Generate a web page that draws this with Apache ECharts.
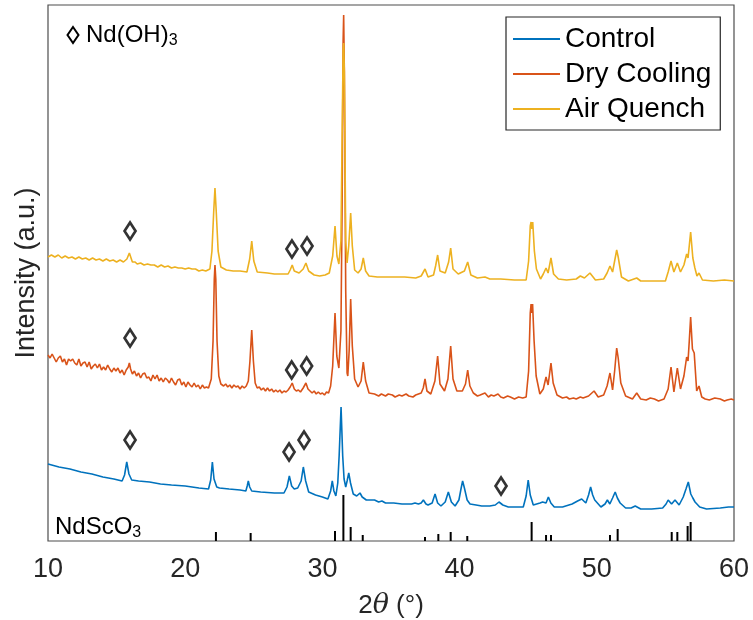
<!DOCTYPE html>
<html>
<head>
<meta charset="utf-8">
<script src="https://cdn.jsdelivr.net/npm/echarts@6/dist/echarts.min.js"></script>
<style>
html,body{margin:0;padding:0;background:#fff;}
#chart{width:753px;height:620px;}
</style>
</head>
<body>
<div id="chart"></div>
<script>
// x: 2-theta (deg), y: intensity (arbitrary units, offset traces)
const seriesNames = ['Control', 'Dry Cooling', 'Air Quench'];
const xTicks = [10, 20, 30, 40, 50, 60];

const control = [[10.0,77],[10.8,74],[11.6,72],[12.4,69],[13.2,67],[14.0,64],[14.8,62],[15.4,60],[15.58,66],[15.74,79],[15.9,67],[16.1,61],[16.6,60],[17.4,59],[18.2,57],[19.0,56],[20.0,55],[21.0,53],[21.7,52],[21.86,61],[21.98,79],[22.1,62],[22.3,54],[22.5,53],[23.2,52],[24.0,51],[24.42,50],[24.52,55],[24.6,60],[24.7,54],[24.85,50],[25.5,49],[26.5,48],[27.2,48],[27.42,54],[27.59,65],[27.76,55],[27.95,52],[28.2,53],[28.45,60],[28.61,74],[28.78,60],[29.0,49],[29.5,46],[30.0,44],[30.4,42],[30.6,50],[30.72,60],[30.84,50],[30.98,45],[31.12,58],[31.22,85],[31.36,134],[31.48,85],[31.58,62],[31.7,54],[31.8,60],[31.92,68],[32.05,58],[32.25,47],[32.5,45],[32.62,47],[32.74,48],[32.9,44],[33.2,41],[33.8,41],[34.1,39],[34.34,40],[34.6,38],[35.2,38],[35.8,37],[36.5,37],[36.75,38],[37.0,37],[37.2,38],[37.36,41],[37.55,37],[37.7,36],[38.0,38],[38.21,47],[38.4,38],[38.64,35],[38.95,39],[39.18,49],[39.4,39],[39.67,35],[39.95,41],[40.1,52],[40.22,60],[40.35,53],[40.55,41],[40.76,37],[41.2,36],[41.61,35],[42.2,35],[42.6,36],[42.87,39],[43.15,36],[43.55,34],[44.2,34],[44.64,34],[44.85,45],[45.0,61],[45.15,46],[45.37,36],[45.86,38],[46.05,39],[46.17,40],[46.3,38],[46.47,44],[46.65,38],[46.9,34],[47.5,34],[48.2,37],[48.6,40],[48.9,42],[49.2,38],[49.4,46],[49.55,54],[49.7,46],[49.85,41],[50.3,34],[50.6,37],[50.77,41],[50.95,37],[51.15,43],[51.34,49],[51.5,43],[51.7,38],[52.1,33],[52.5,33],[52.8,35],[53.2,32],[54.0,32],[54.8,33],[55.05,37],[55.2,41],[55.45,37],[55.7,41],[56.0,36],[56.3,44],[56.5,52],[56.67,59],[56.85,47],[57.0,43],[57.16,39],[57.5,34],[58.0,32],[59.0,33],[59.6,34],[60.0,34]];

const dryCooling = [[10.0,186],[10.15,183],[10.3,187],[10.45,183],[10.6,179],[10.75,183],[10.9,185],[11.05,179],[11.2,182],[11.35,176],[11.5,182],[11.65,180],[11.8,182],[11.95,178],[12.1,176],[12.25,182],[12.4,175],[12.55,178],[12.7,179],[12.85,174],[13.0,179],[13.15,172],[13.3,175],[13.45,177],[13.6,173],[13.75,177],[13.9,171],[14.05,174],[14.2,171],[14.35,176],[14.5,172],[14.65,169],[14.8,173],[14.95,170],[15.1,173],[15.25,168],[15.4,171],[15.55,166],[15.7,171],[15.85,174],[15.93,178],[16.02,172],[16.15,167],[16.3,170],[16.45,165],[16.6,168],[16.75,163],[16.9,167],[17.05,168],[17.2,163],[17.35,164],[17.5,160],[17.65,166],[17.8,162],[17.95,166],[18.1,160],[18.25,163],[18.4,159],[18.55,163],[18.7,161],[18.85,158],[19.0,163],[19.15,159],[19.3,156],[19.45,161],[19.6,162],[19.75,156],[19.9,159],[20.05,154],[20.2,159],[20.35,156],[20.5,154],[20.65,158],[20.8,154],[20.95,156],[21.1,152],[21.25,156],[21.4,153],[21.55,154],[21.7,153],[21.9,162],[22.03,200],[22.12,262],[22.17,276],[22.23,262],[22.32,200],[22.45,165],[22.6,157],[22.8,155],[22.95,157],[23.1,154],[23.25,156],[23.4,153],[23.55,156],[23.7,154],[23.85,155],[24.0,152],[24.15,155],[24.3,153],[24.45,155],[24.6,160],[24.72,180],[24.85,211],[24.97,180],[25.1,158],[25.25,153],[25.4,154],[25.55,151],[25.7,153],[25.85,150],[26.0,153],[26.15,150],[26.3,152],[26.45,149],[26.6,151],[26.75,149],[26.9,151],[27.05,148],[27.2,150],[27.35,149],[27.5,151],[27.65,154],[27.8,158],[27.95,152],[28.1,150],[28.25,151],[28.4,149],[28.6,153],[28.8,158],[28.95,152],[29.1,150],[29.25,148],[29.4,150],[29.55,147],[29.7,149],[29.85,147],[30.0,148],[30.15,146],[30.3,149],[30.45,148],[30.6,155],[30.75,175],[30.92,228],[31.05,185],[31.2,173],[31.35,210],[31.44,340],[31.51,500],[31.55,526],[31.6,470],[31.7,250],[31.8,168],[31.85,165],[31.95,190],[32.06,242],[32.18,195],[32.35,162],[32.6,154],[32.82,160],[32.98,179],[33.15,160],[33.4,148],[33.8,147],[34.1,145],[34.3,147],[34.6,145],[34.8,147],[35.1,146],[35.3,144],[35.6,146],[35.8,145],[36.1,147],[36.3,145],[36.6,144],[36.8,146],[37.2,148],[37.35,153],[37.48,162],[37.62,150],[37.9,147],[38.2,160],[38.4,185],[38.57,157],[38.9,150],[39.15,162],[39.35,195],[39.52,162],[39.8,150],[40.2,150],[40.43,157],[40.59,171],[40.75,155],[41.0,148],[41.3,145],[41.5,146],[41.85,148],[42.1,144],[42.3,146],[42.5,145],[42.8,147],[43.0,144],[43.2,143],[43.5,145],[43.7,144],[44.0,142],[44.3,144],[44.6,143],[44.85,144],[45.03,170],[45.15,228],[45.21,237],[45.26,228],[45.32,237],[45.43,200],[45.58,165],[45.85,147],[46.1,152],[46.3,164],[46.45,156],[46.66,178],[46.82,158],[47.1,146],[47.5,143],[47.8,144],[48.0,142],[48.3,143],[48.5,142],[48.8,144],[49.0,143],[49.4,145],[49.8,150],[50.1,144],[50.5,146],[50.75,155],[50.96,168],[51.15,151],[51.3,170],[51.45,193],[51.56,183],[51.75,158],[52.1,145],[52.6,142],[52.91,148],[53.2,142],[53.6,141],[53.9,143],[54.2,142],[54.5,140],[54.9,142],[55.2,152],[55.41,174],[55.62,149],[55.87,173],[56.1,152],[56.35,165],[56.55,184],[56.65,180],[56.74,200],[56.84,224],[56.97,192],[57.1,188],[57.28,150],[57.45,155],[57.65,144],[57.9,142],[58.2,141],[58.6,143],[59.0,142],[59.3,140],[59.5,141],[59.8,142],[60.0,141]];

const airQuench = [[10.0,284],[10.25,286],[10.5,284],[10.75,286],[11.0,283],[11.25,285],[11.5,283],[11.75,284],[12.0,282],[12.25,284],[12.5,282],[12.75,283],[13.0,281],[13.25,283],[13.5,281],[13.75,282],[14.0,280],[14.25,282],[14.5,280],[14.75,281],[15.0,279],[15.25,281],[15.5,279],[15.75,282],[15.93,288],[16.15,279],[16.35,279],[16.5,277],[16.75,278],[17.0,276],[17.25,277],[17.5,276],[17.75,276],[18.0,274],[18.25,276],[18.5,274],[18.75,275],[19.0,273],[19.25,274],[19.5,273],[19.75,273],[20.0,272],[20.25,273],[20.5,272],[20.75,272],[21.0,270],[21.25,271],[21.5,270],[21.8,272],[21.95,290],[22.08,330],[22.17,353],[22.26,330],[22.4,290],[22.6,274],[23.0,271],[23.5,270],[24.0,270],[24.5,269],[24.7,282],[24.85,300],[25.0,280],[25.25,269],[26.0,268],[26.5,267],[27.0,267],[27.5,267],[27.65,271],[27.8,276],[27.95,270],[28.3,268],[28.6,272],[28.8,278],[29.0,270],[29.4,266],[29.8,265],[30.2,266],[30.5,268],[30.75,285],[30.92,315],[31.06,285],[31.2,277],[31.35,300],[31.45,420],[31.51,490],[31.55,498],[31.6,470],[31.7,300],[31.8,278],[31.92,295],[32.06,328],[32.18,295],[32.35,271],[32.6,268],[32.82,272],[32.98,283],[33.15,270],[33.4,265],[34.0,264],[35.0,264],[36.0,264],[36.8,263],[37.2,265],[37.48,272],[37.7,264],[38.1,266],[38.25,275],[38.4,286],[38.57,270],[38.95,268],[39.2,279],[39.35,293],[39.52,272],[39.9,267],[40.35,270],[40.59,279],[40.82,266],[41.3,263],[41.85,264],[42.2,262],[43.0,262],[44.0,261],[44.85,261],[45.03,280],[45.15,315],[45.21,319],[45.27,312],[45.33,319],[45.45,290],[45.6,272],[45.9,262],[46.1,267],[46.3,273],[46.45,268],[46.66,283],[46.85,267],[47.2,262],[47.8,261],[48.5,262],[48.8,265],[49.1,263],[49.5,268],[49.9,261],[50.5,262],[50.75,268],[50.96,275],[51.15,269],[51.3,280],[51.45,291],[51.56,284],[51.8,264],[52.3,260],[52.91,263],[53.2,260],[54.0,260],[55.0,260],[55.2,269],[55.41,280],[55.62,269],[55.87,278],[56.1,269],[56.35,276],[56.55,287],[56.65,283],[56.84,309],[57.0,283],[57.15,273],[57.3,265],[57.45,268],[57.7,261],[58.5,260],[59.3,261],[60.0,260]];

// NdScO3 reference pattern (stick positions, relative heights)
const refSticks = [[22.24,9],[24.77,8],[30.92,10],[31.53,46],[32.06,14],[32.94,6],[37.48,4],[38.45,7],[39.35,9],[40.56,5],[45.25,19],[46.30,6],[46.66,6],[50.96,6],[51.52,12],[55.46,9],[55.87,9],[56.62,15],[56.84,19]];

// Nd(OH)3 peak markers
const ndohMarkers = [[15.98,310],[27.78,292],[28.88,295],[15.98,203],[27.76,171],[28.85,175],[15.98,101],[27.57,89],[28.66,101],[43.02,55]];

const colors = ['#0072BD', '#D95319', '#EDB120'];
const FONT = '"Liberation Sans", Arial, Helvetica, sans-serif';

const chart = echarts.init(document.getElementById('chart'), null, {renderer: 'canvas'});
chart.setOption({
  animation: false,
  backgroundColor: '#fff',
  color: colors,
  grid: {left: 48, right: 19, top: 5, bottom: 79, outerBoundsMode: 'none', containLabel: false, show: true, borderColor: '#4d4d4d', borderWidth: 1.2, backgroundColor: 'transparent'},
  xAxis: {
    type: 'value', min: xTicks[0], max: xTicks[xTicks.length - 1], interval: 10,
    axisLine: {show: false}, axisTick: {show: false}, splitLine: {show: false},
    axisLabel: {fontSize: 27, color: '#262626', fontFamily: FONT, margin: 15},
    name: '{n|2}{i|θ}{n| (°)}', nameLocation: 'middle', nameGap: 51,
    nameTextStyle: {rich: {
      n: {fontSize: 26, color: '#262626', fontFamily: FONT},
      i: {fontSize: 27, color: '#262626', fontFamily: '"DejaVu Serif", "Liberation Serif", serif', fontStyle: 'italic'}
    }}
  },
  yAxis: {
    type: 'value', min: 0, max: 536,
    axisLine: {show: false}, axisTick: {show: false}, splitLine: {show: false}, axisLabel: {show: false},
    name: 'Intensity (a.u.)', nameLocation: 'middle', nameGap: 8,
    nameTextStyle: {fontSize: 27, color: '#262626', fontFamily: FONT}
  },
  legend: {
    orient: 'vertical', left: 506, top: 17,
    data: seriesNames.map(function (n) { return {name: n, icon: 'rect'}; }),
    backgroundColor: '#fff', borderColor: '#262626', borderWidth: 1.2,
    padding: [7, 9, 6, 7], itemGap: 5, itemWidth: 47, itemHeight: 2,
    textStyle: {fontSize: 28, color: '#000', fontFamily: FONT, lineHeight: 30}
  },
  graphic: [
    {type: 'polygon', shape: {points: [[73, 27], [78.5, 35], [73, 43], [67.5, 35]]}, style: {fill: 'none', stroke: '#000', lineWidth: 2}, z: 100},
    {type: 'text', left: 86, top: 23, style: {text: '{a|Nd(OH)}{b|3}', rich: {a: {fontSize: 24, fontFamily: FONT, fill: '#000'}, b: {fontSize: 16, fontFamily: FONT, fill: '#000', verticalAlign: 'bottom', padding: [12, 0, 0, 0]}}}, z: 100},
    {type: 'text', left: 55, top: 515, style: {text: '{a|NdScO}{b|3}', rich: {a: {fontSize: 24, fontFamily: FONT, fill: '#000'}, b: {fontSize: 16, fontFamily: FONT, fill: '#000', verticalAlign: 'bottom', padding: [12, 0, 0, 0]}}}, z: 100}
  ],
  series: [
    {name: seriesNames[0], type: 'line', data: control, symbol: 'none', lineStyle: {width: 1.6, color: colors[0]}, itemStyle: {color: colors[0]}, z: 2},
    {name: seriesNames[1], type: 'line', data: dryCooling, symbol: 'none', lineStyle: {width: 1.6, color: colors[1]}, itemStyle: {color: colors[1]}, z: 3},
    {name: seriesNames[2], type: 'line', data: airQuench, symbol: 'none', lineStyle: {width: 1.6, color: colors[2]}, itemStyle: {color: colors[2]}, z: 4},
    {name: 'NdScO3', type: 'bar', data: refSticks, barWidth: 2, itemStyle: {color: '#000'}, z: 5},
    {name: 'Nd(OH)3', type: 'scatter', data: ndohMarkers, symbol: 'diamond', symbolSize: [11, 17], itemStyle: {color: 'rgba(255,255,255,0)', borderColor: '#000', borderWidth: 2.8}, z: 6}
  ]
});
</script>
</body>
</html>
